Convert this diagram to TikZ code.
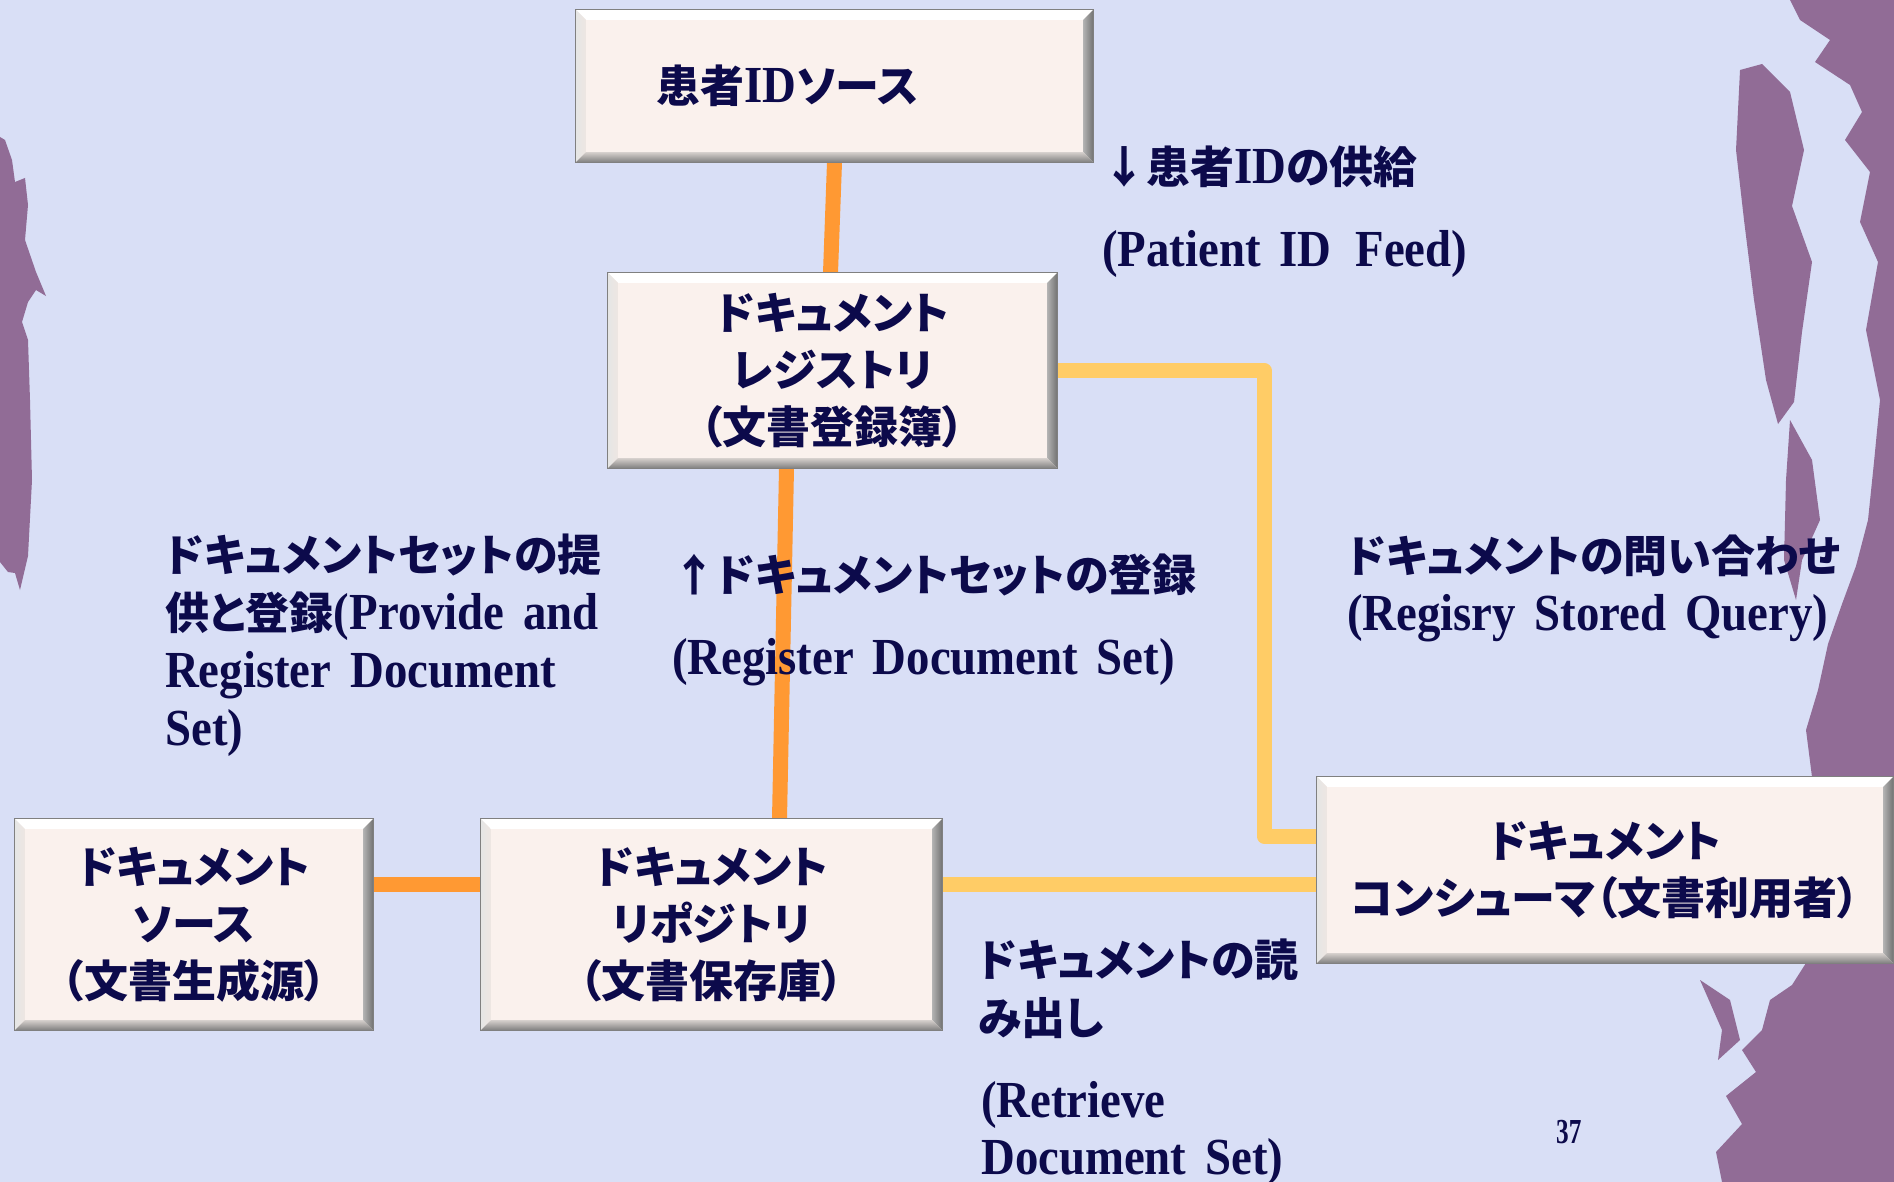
\documentclass[tikz,border=0pt]{standalone}
\usepackage{fontspec}
\setmainfont{Liberation Serif}[Scale=1.3, FakeStretch=0.9, WordSpace=1.6]
\newfontfamily\jpfont{Noto Sans CJK JP}[RawFeature=+palt, Scale=1.1]
\newcommand{\J}[1]{{\jpfont #1}}
\usetikzlibrary{calc}
\definecolor{bgc}{RGB}{217,223,246}
\definecolor{brush}{RGB}{145,108,150}
\definecolor{ink}{RGB}{12,10,75}
\definecolor{boxfill}{RGB}{250,241,237}
\definecolor{lineorange}{RGB}{255,153,51}
\definecolor{lineyellow}{RGB}{255,204,102}
\pgfdeclarelayer{bg}
\pgfdeclarelayer{lines}
\pgfsetlayers{bg,lines,main}
\newcommand{\bevel}[1]{%
  \fill[white] (#1.north west) -- (#1.north east) -- ([xshift=-10pt,yshift=-10pt]#1.north east) -- ([xshift=10pt,yshift=-10pt]#1.north west) -- cycle;
  \shade[left color=white!80!gray, right color=boxfill!90!gray] (#1.north west) -- ([xshift=10pt,yshift=-10pt]#1.north west) -- ([xshift=10pt,yshift=10pt]#1.south west) -- (#1.south west) -- cycle;
  \shade[left color=gray!60, right color=black!55] (#1.north east) -- (#1.south east) -- ([xshift=-10pt,yshift=10pt]#1.south east) -- ([xshift=-10pt,yshift=-10pt]#1.north east) -- cycle;
  \shade[top color=boxfill!70!gray, bottom color=gray] (#1.south west) -- (#1.south east) -- ([xshift=-10pt,yshift=10pt]#1.south east) -- ([xshift=10pt,yshift=10pt]#1.south west) -- cycle;
  \draw[gray, line width=1pt] (#1.north west) rectangle (#1.south east);
}
\tikzset{
  box/.style={rectangle, fill=boxfill, inner sep=0pt, align=center, text=ink,
    font=\bfseries\fontsize{40}{57}\selectfont},
  lbl/.style={inner sep=0pt, align=left, anchor=west, text=ink,
    font=\bfseries\fontsize{40}{58}\selectfont},
  orangeline/.style={draw=lineorange, line width=15pt},
  yellowline/.style={draw=lineyellow, line width=15pt, line join=round}
}
\begin{document}
\begin{tikzpicture}[x=1pt,y=-1pt]
\useasboundingbox (0,0) rectangle (1894,1182);
\begin{pgfonlayer}{bg}
\fill[bgc] (0,0) rectangle (1894,1182);
% right brush band
\fill[brush] (1894,0) -- (1790,0) -- (1800,20) -- (1830,40) -- (1815,62) -- (1850,85) -- (1862,112) -- (1845,140) -- (1870,172) -- (1860,222) -- (1878,262) -- (1866,330) -- (1880,400) -- (1874,462) -- (1868,520) -- (1856,566) -- (1842,604) -- (1828,644) -- (1818,690) -- (1806,730) -- (1812,777) -- (1806,963) -- (1792,985) -- (1770,1000) -- (1762,1030) -- (1742,1050) -- (1756,1072) -- (1726,1096) -- (1742,1124) -- (1716,1152) -- (1722,1182) -- (1894,1182) -- cycle;
% right shards
\fill[brush] (1740,70) -- (1762,64) -- (1790,92) -- (1804,150) -- (1792,206) -- (1812,262) -- (1802,332) -- (1794,402) -- (1778,424) -- (1766,380) -- (1754,300) -- (1744,220) -- (1736,150) -- cycle;
\fill[brush] (1790,420) -- (1812,460) -- (1820,520) -- (1802,560) -- (1796,600) -- (1784,560) -- (1786,480) -- cycle;
\fill[brush] (1700,980) -- (1730,1000) -- (1740,1040) -- (1718,1060) -- (1722,1030) -- cycle;
% left brush
\fill[brush] (0,137) -- (5,140) -- (12,160) -- (15,182) -- (25,178) -- (28,205) -- (25,240) -- (36,272) -- (46,296) -- (36,290) -- (28,302) -- (22,322) -- (28,340) -- (30,400) -- (32,480) -- (28,556) -- (20,590) -- (15,573) -- (8,572) -- (0,562) -- cycle;
\end{pgfonlayer}

% boxes
\node[box, minimum width=517pt, minimum height=152pt] (A) at (834.5,86) {\J{患者}ID\J{ソース}\hspace*{94pt}};
\node[box, minimum width=449pt, minimum height=195pt] (B) at (832.5,370.5) {\J{ドキュメント}\\\J{レジストリ}\\\J{（文書登録簿）}};
\node[box, minimum width=358pt, minimum height=211pt] (C) at (194,924.5) {\J{ドキュメント}\\\J{ソース}\\\J{（文書生成源）}};
\node[box, minimum width=461pt, minimum height=211pt] (D) at (711.5,924.5) {\J{ドキュメント}\\\J{リポジトリ}\\\J{（文書保存庫）}};
\node[box, minimum width=576pt, minimum height=186pt] (E) at (1605,870) {\J{ドキュメント}\\\J{コンシューマ（文書利用者）}};
\foreach \n in {A,B,C,D,E} {\bevel{\n}}

% connectors
\coordinate (corner) at (1264,0);
\coordinate (Ein) at ([yshift=34pt]E.west);
\coordinate (Dout) at ([yshift=40pt]D.east);
\coordinate (Cout) at ([yshift=40pt]C.east);
\begin{pgfonlayer}{lines}
\draw[orangeline] (A.south) -- ([xshift=-2pt]B.north);
\draw[orangeline] ([xshift=-46pt]B.south) -- ([xshift=68pt]D.north);
\draw[orangeline] (Cout) -- (Cout -| D.west);
\draw[yellowline] (B.east) -- (B.east -| corner) -- (corner |- Ein) -- (Ein);
\draw[yellowline] (Dout) -- (Dout -| E.west);
\end{pgfonlayer}

% labels
\node[lbl] (t1) at (1102,167) {\J{↓患者}ID\J{の供給}};
\node[lbl] (t2) at (1102,254) {(Patient ID\hspace{24pt}Feed)};
\node[lbl] (t3) at (165,645.5) {\J{ドキュメントセットの提}\\\J{供と登録}(Provide and\\Register Document\\Set)};
\node[lbl] (t4) at (672,575) {\J{↑ドキュメントセットの登録}};
\node[lbl] (t5) at (672,662) {(Register Document Set)};
\node[lbl] (t6) at (1347,588) {\J{ドキュメントの問い合わせ}\\(Regisry Stored Query)};
\node[lbl] (t7) at (978,989) {\J{ドキュメントの読}\\\J{み出し}};
\node[lbl, font=\bfseries\fontsize{40}{57}\selectfont] (t8) at (981,1133.5) {(Retrieve\\Document Set)};
\node[lbl, font=\bfseries\fontsize{27}{30}\selectfont] (t9) at (1556,1132) {\scalebox{0.8}[1]{37}};
\end{tikzpicture}
\end{document}
